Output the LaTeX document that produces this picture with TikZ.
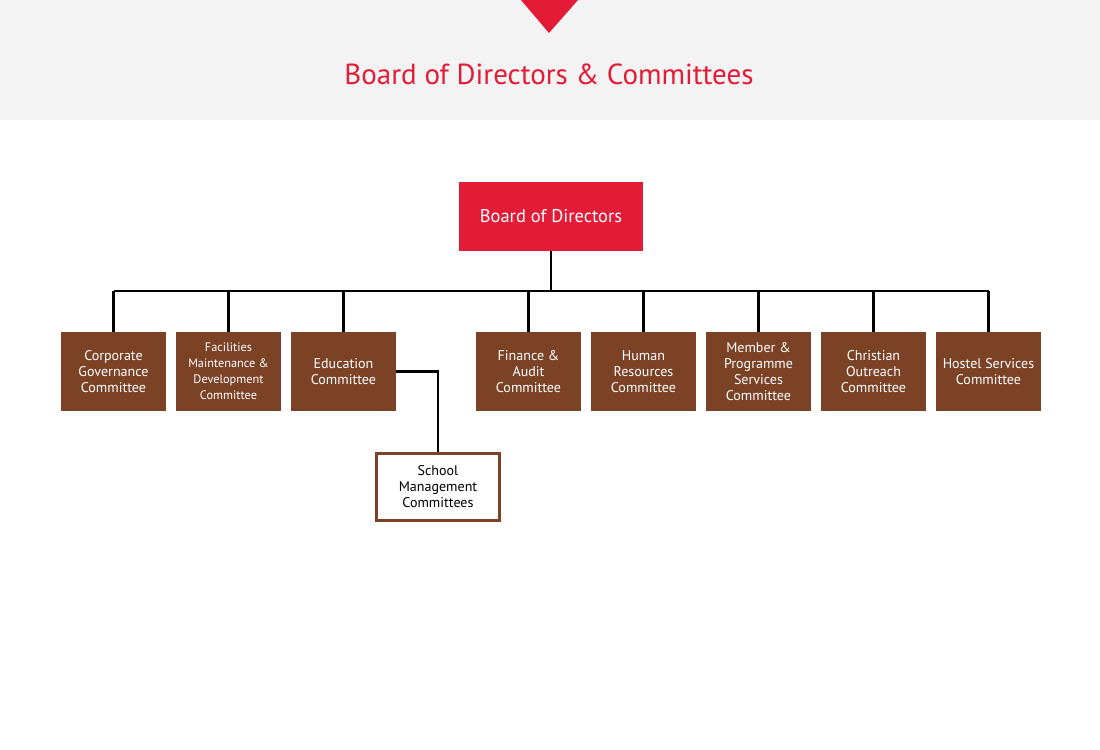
\documentclass[tikz,border=0pt]{standalone}
\usepackage{fontspec}
\setmainfont{PT Sans}
\definecolor{bodred}{RGB}{227,27,54}
\definecolor{combrown}{RGB}{123,66,38}
\definecolor{bandgray}{RGB}{244,243,243}

\begin{document}
\begin{tikzpicture}[x=0.02cm,y=-0.02cm,
    combox/.style={fill=combrown,text=white,minimum width=2.1cm,minimum height=1.58cm,
      inner sep=0pt,align=center,font=\fontsize{8}{9.1}\selectfont},
    link/.style={draw=black,line width=1.2pt}]
  \useasboundingbox (0,0) rectangle (1100,750);
  \fill[white] (0,0) rectangle (1100,750);
  \fill[bandgray] (0,0) rectangle (1100,120);
  \fill[bodred] (521,0) -- (578,0) -- (549,33) -- cycle;
  \node[text=bodred,font=\fontsize{16.5}{20}\selectfont] (title) at (549,74) {Board of Directors \& Committees};

  \node[fill=bodred,text=white,minimum width=3.68cm,minimum height=1.38cm,inner sep=0pt,
    font=\fontsize{10.5}{13}\selectfont] (board) at (551,216.5) {Board of Directors};

  \node[combox] (corp) at (113.5,371.5) {Corporate\\Governance\\Committee};
  \node[combox,font=\fontsize{7}{9.1}\selectfont] (facil) at (228.5,371.5) {Facilities\\Maintenance \&\\Development\\Committee};
  \node[combox] (edu) at (343.5,371.5) {Education\\Committee};
  \node[combox] (fin) at (528.5,371.5) {Finance \&\\Audit\\Committee};
  \node[combox] (hr) at (643.5,371.5) {Human\\Resources\\Committee};
  \node[combox] (member) at (758.5,371.5) {Member \&\\Programme\\Services\\Committee};
  \node[combox] (christ) at (873.5,371.5) {Christian\\Outreach\\Committee};
  \node[combox] (hostel) at (988.5,371.5) {Hostel Services\\Committee};

  \node[draw=combrown,line width=1.5pt,fill=white,minimum width=2.46cm,minimum height=1.34cm,
    inner sep=0pt,align=center,font=\fontsize{8}{9.1}\selectfont] (school) at (438,487) {School\\Management\\Committees};

  \coordinate (bus) at (551,291);
  \draw[link] (board.south) -- (bus);
  \draw[link] (corp.north |- bus) -- (hostel.north |- bus);
  \foreach \c in {corp,facil,edu,fin,hr,member,christ,hostel}
    \draw[link] (\c.north) -- (\c.north |- bus);
  \draw[link] (edu.east) -| (school.north);
\end{tikzpicture}
\end{document}
